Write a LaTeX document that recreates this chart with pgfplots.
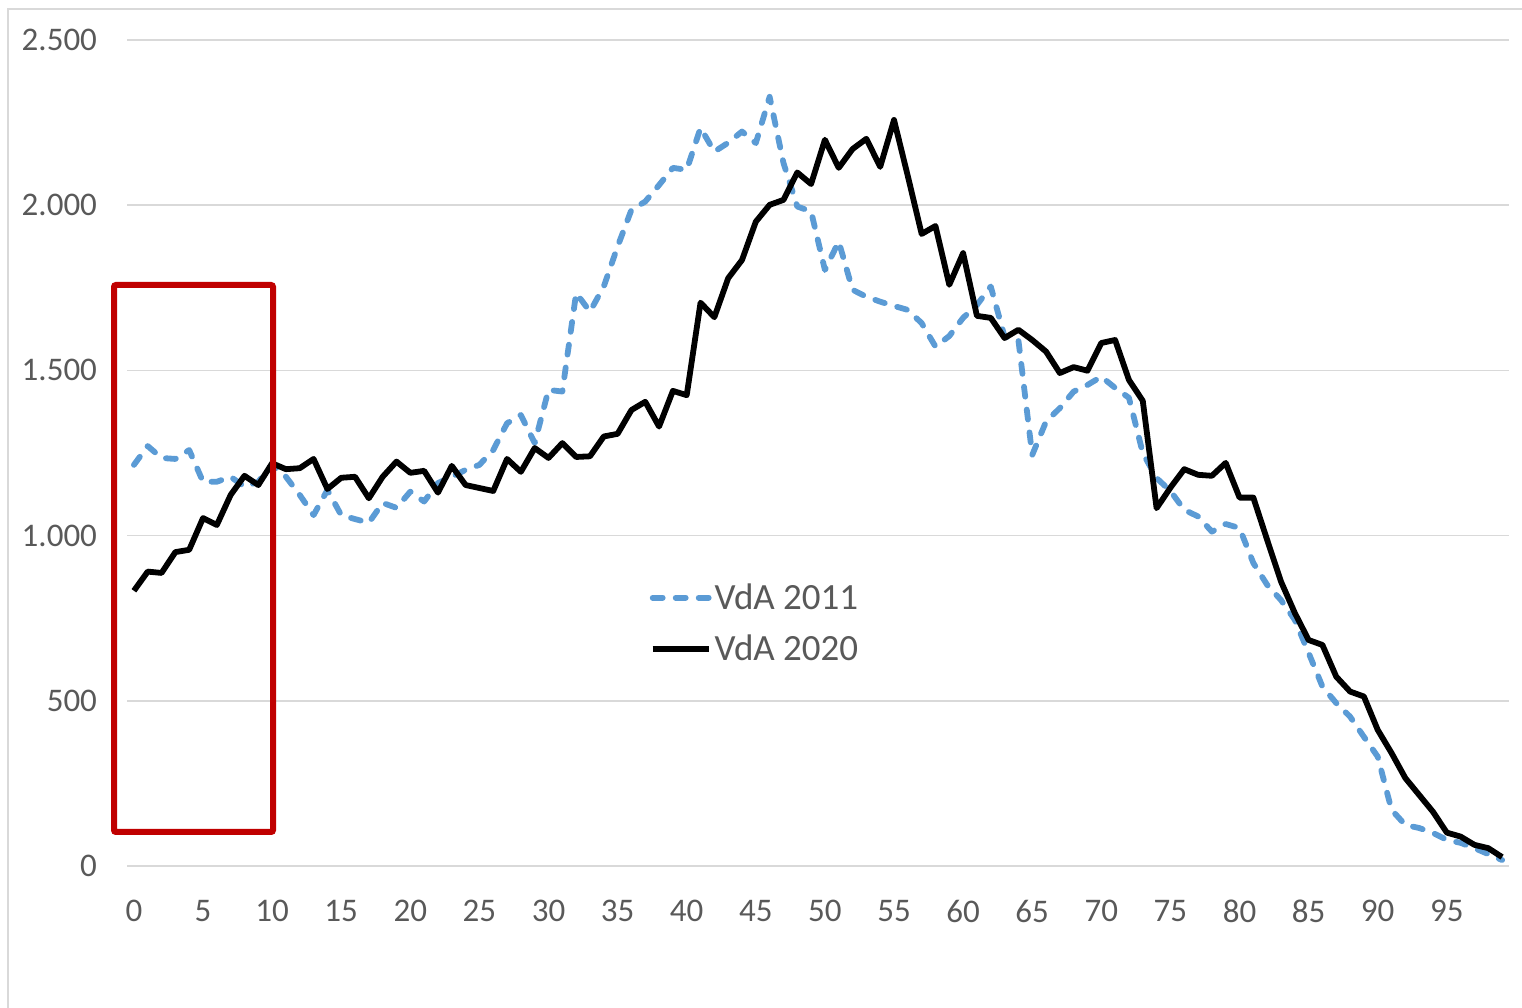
\documentclass[border=0pt]{standalone}
\usepackage{pgfplots}
\pgfplotsset{compat=1.18}
\usepackage{fontspec}
\setmainfont{Carlito}
\definecolor{vdablue}{HTML}{5B9BD5}
\definecolor{gridgray}{HTML}{D9D9D9}
\definecolor{ticktext}{HTML}{595959}
\definecolor{boxred}{HTML}{C00000}
\begin{document}
\begin{tikzpicture}
\path[use as bounding box] (0,0) rectangle (761bp,504bp);
\draw[gridgray, line width=0.8bp] (4bp,0) -- (4bp,499.5bp) -- (761bp,499.5bp);
\begin{axis}[
  at={(63.5bp,71bp)}, anchor=south west,
  scale only axis, width=691bp, height=413bp,
  xmin=-0.5, xmax=99.5, ymin=0, ymax=2500,
  xtick={0,5,...,95}, ytick={0,500,...,2500},
  axis line style={draw=none},
  major tick length=0pt,
  ymajorgrids, grid style={gridgray, line width=0.8bp},
  tick label style={font=\fontsize{16.5bp}{18bp}\selectfont, text=ticktext},
  xticklabel style={yshift=-13.5bp},
  yticklabel style={xshift=-11.5bp},
  /pgf/number format/assume math mode=true,
  /pgf/number format/1000 sep={.},
  scaled y ticks=false,
  clip=false,
  legend style={at={(0.378,0.2936)}, anchor=west, draw=none, fill=none,
    font=\fontsize{18.5bp}{20bp}\selectfont, text=ticktext,
    inner sep=0pt, row sep=7.5bp, nodes={inner xsep=1.5bp}},
  legend cell align=left,
  legend image code/.code={\draw[#1] (0bp,0bp) -- (28bp,0bp);},
]
\addplot[vdablue, line width=2.9bp, line cap=round, line join=round, dash pattern=on 5bp off 6.5bp] coordinates {
(0,1214)(1,1271)(2,1235)(3,1232)(4,1259)(5,1163)(6,1163)(7,1178)(8,1148)(9,1163)
(10,1215)(11,1178)(12,1123)(13,1062)(14,1138)(15,1062)(16,1050)(17,1039)(18,1099)(19,1084)
(20,1133)(21,1103)(22,1159)(23,1178)(24,1199)(25,1214)(26,1259)(27,1340)(28,1365)(29,1280)
(30,1441)(31,1436)(32,1734)(33,1678)(34,1754)(35,1875)(36,1986)(37,2011)(38,2061)(39,2113)
(40,2107)(41,2234)(42,2162)(43,2189)(44,2223)(45,2188)(46,2328)(47,2128)(48,1996)(49,1981)
(50,1804)(51,1890)(52,1744)(53,1723)(54,1708)(55,1695)(56,1683)(57,1643)(58,1572)(59,1604)
(60,1659)(61,1698)(62,1754)(63,1602)(64,1592)(65,1244)(66,1345)(67,1386)(68,1436)(69,1456)
(70,1481)(71,1447)(72,1417)(73,1250)(74,1174)(75,1135)(76,1078)(77,1058)(78,1012)(79,1035)
(80,1023)(81,917)(82,851)(83,805)(84,745)(85,645)(86,543)(87,493)(88,452)(89,391)
(90,331)(91,170)(92,124)(93,115)(94,100)(95,79)(96,70)(97,54)(98,36)(99,18)
};
\addlegendentry{VdA 2011}
\addplot[black, line width=2.9bp, line join=round] coordinates {
(0,833)(1,891)(2,887)(3,950)(4,957)(5,1053)(6,1032)(7,1123)(8,1181)(9,1153)
(10,1219)(11,1201)(12,1204)(13,1232)(14,1141)(15,1175)(16,1178)(17,1113)(18,1178)(19,1224)
(20,1190)(21,1196)(22,1130)(23,1211)(24,1153)(25,1144)(26,1135)(27,1232)(28,1193)(29,1265)
(30,1235)(31,1280)(32,1238)(33,1240)(34,1300)(35,1308)(36,1380)(37,1405)(38,1330)(39,1438)
(40,1425)(41,1705)(42,1661)(43,1779)(44,1834)(45,1950)(46,2001)(47,2016)(48,2099)(49,2064)
(50,2198)(51,2113)(52,2170)(53,2201)(54,2116)(55,2258)(56,2088)(57,1913)(58,1937)(59,1759)
(60,1855)(61,1665)(62,1659)(63,1598)(64,1623)(65,1592)(66,1557)(67,1492)(68,1510)(69,1499)
(70,1583)(71,1592)(72,1471)(73,1408)(74,1083)(75,1145)(76,1201)(77,1184)(78,1181)(79,1220)
(80,1115)(81,1115)(82,987)(83,861)(84,766)(85,684)(86,669)(87,573)(88,528)(89,513)
(90,412)(91,342)(92,266)(93,215)(94,164)(95,101)(96,89)(97,64)(98,54)(99,27)
};
\addlegendentry{VdA 2020}
\end{axis}
\draw[boxred, line width=3bp, rounded corners=1bp] (57bp,88bp) rectangle (136.5bp,361.5bp);
\end{tikzpicture}
\end{document}
